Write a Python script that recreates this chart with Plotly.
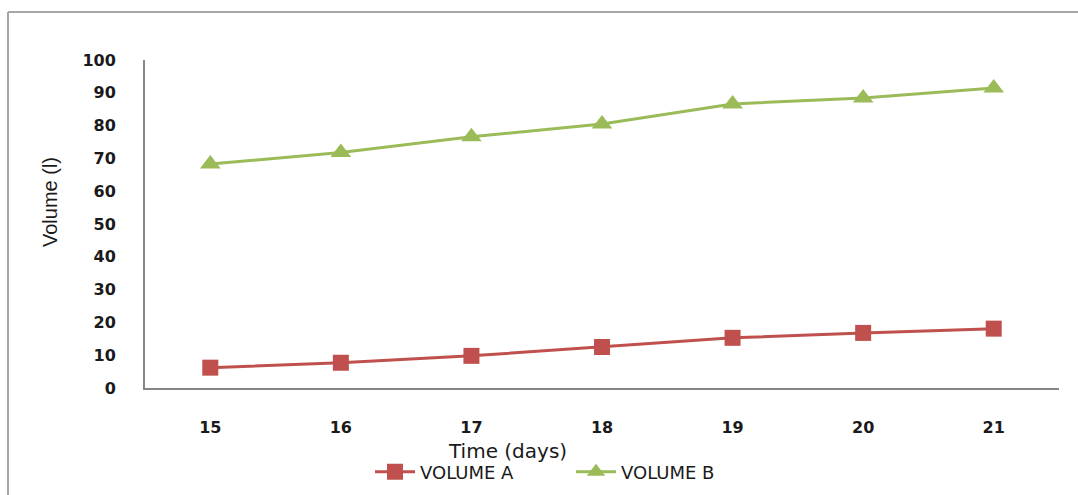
import plotly.graph_objects as go

# Measurement data
days = ["15", "16", "17", "18", "19", "20", "21"]
volume_a = [6.2, 7.7, 9.8, 12.5, 15.3, 16.8, 18.1]
volume_b = [68.3, 71.8, 76.6, 80.5, 86.6, 88.4, 91.5]
y_ticks = [0, 10, 20, 30, 40, 50, 60, 70, 80, 90, 100]

RED = "#C0504D"
GREEN = "#9BBB59"
AXIS = "#868686"

W, H = 1078, 495
L, R, T, B = 145, 19, 60, 107
pw, ph = W - L - R, H - T - B


def px(x):
    return (x - L) / pw


def py(y):
    return (H - B - y) / ph


fig = go.Figure()
fig.add_trace(go.Scatter(
    x=days, y=volume_a, name="VOLUME A", mode="lines+markers",
    line=dict(color=RED, width=3),
    marker=dict(symbol="square", size=16, color=RED),
))
fig.add_trace(go.Scatter(
    x=days, y=volume_b, name="VOLUME B", mode="lines+markers",
    line=dict(color=GREEN, width=3),
    marker=dict(symbol="triangle-up", size=18, color=GREEN),
))

tick_font = dict(family="DejaVu Sans", size=16, color="#1a1a1a", weight="bold")

fig.update_layout(
    width=W, height=H,
    margin=dict(l=L, r=R, t=T, b=B, autoexpand=False),
    paper_bgcolor="white", plot_bgcolor="white",
    showlegend=True,
    legend=dict(
        orientation="h", x=px(370), y=py(472), xanchor="left", yanchor="middle",
        font=dict(family="DejaVu Sans", size=18, color="#1a1a1a"),
        entrywidth=146, entrywidthmode="pixels",
        itemwidth=40, tracegroupgap=0, bgcolor="rgba(0,0,0,0)",
    ),
    xaxis=dict(
        type="category", range=[-0.5, 6.5],
        showgrid=False, zeroline=False,
        showline=True, linecolor=AXIS, linewidth=2,
        ticks="", ticklabelstandoff=24, tickfont=tick_font,
    ),
    yaxis=dict(
        range=[0, 100], tickvals=y_ticks,
        showgrid=False, zeroline=False,
        showline=True, linecolor=AXIS, linewidth=2,
        ticks="", ticklabelstandoff=24, tickfont=tick_font,
    ),
    annotations=[
        dict(text="Time (days)", xref="paper", yref="paper",
             x=px(507), y=py(451), xanchor="center", yanchor="middle",
             showarrow=False,
             font=dict(family="DejaVu Sans", size=20, color="#1a1a1a")),
        dict(text="Volume (l)", xref="paper", yref="paper",
             x=px(50), y=py(202), xanchor="center", yanchor="middle",
             textangle=-90, showarrow=False,
             font=dict(family="Liberation Sans Narrow, Liberation Sans", size=20,
                       color="#1a1a1a")),
    ],
    shapes=[
        dict(type="line", xref="paper", yref="paper",
             x0=px(8), y0=py(12), x1=px(W + 5), y1=py(12),
             line=dict(color="#A6A6A6", width=2)),
        dict(type="line", xref="paper", yref="paper",
             x0=px(8), y0=py(12), x1=px(8), y1=py(H + 5),
             line=dict(color="#A6A6A6", width=2)),
    ],
)

fig.write_html("out.html")
